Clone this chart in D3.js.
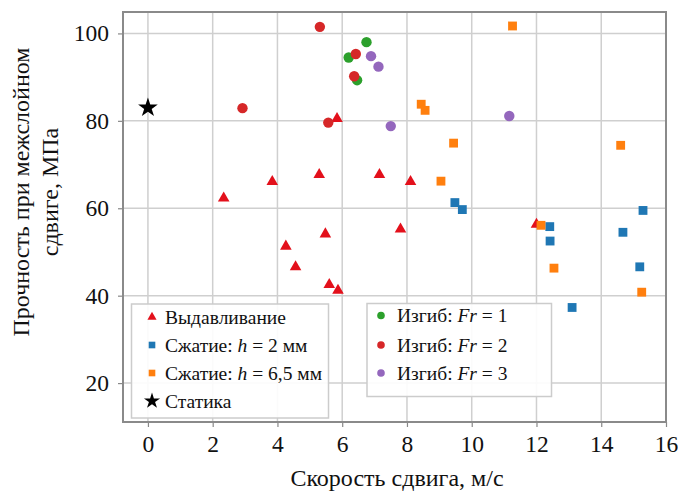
<!DOCTYPE html>
<html><head><meta charset="utf-8">
<script src="https://cdn.jsdelivr.net/npm/d3@7/dist/d3.min.js"></script>
<style>body{margin:0;background:#fff}svg{display:block}</style>
</head><body><svg id="c" width="678" height="491"></svg>
<script>
const xTicks = [0,2,4,6,8,10,12,14,16];
const yTicks = [20,40,60,80,100];
const extrusion = [[2.34,62.3],[3.84,66.1],[4.26,51.3],[4.56,46.6],[5.29,67.7],[5.48,54.1],[5.6,42.5],[5.84,80.5],[5.87,41.2],[7.15,67.7],[7.8,55.2],[8.11,66.1],[12.0,56.3]];
const comp2 = [[9.48,61.3],[9.71,59.7],[12.41,55.8],[12.42,52.5],[13.1,37.3],[14.67,54.5],[15.19,46.6],[15.29,59.5]];
const comp65 = [[8.44,83.8],[8.56,82.4],[9.05,66.2],[9.44,74.9],[11.26,101.7],[12.14,56.1],[12.54,46.3],[14.6,74.4],[15.25,40.8]];
const bend1 = [[6.2,94.5],[6.75,98.0],[6.46,89.3]];
const bend2 = [[2.92,82.9],[5.31,101.5],[5.57,79.6],[6.37,90.2],[6.42,95.3]];
const bend3 = [[6.89,94.8],[7.12,92.4],[7.5,78.8],[11.16,81.1]];
const statics = [[0,83]];
const xTitle = "Скорость сдвига, м/с";
const yTitle = ["Прочность при межслойном","сдвиге, МПа"];

const svg = d3.select("#c");
const L=123, R=666, T=12, B=422;
const x = d3.scaleLinear().domain([-0.77,16]).range([L,R]);
const y = d3.scaleLinear().domain([11.1,104.9]).range([B,T]);
const font = "'Liberation Serif','Times New Roman',serif";

// grid
svg.append("g").selectAll("line.gx").data(xTicks).join("line")
  .attr("x1",d=>x(d)).attr("x2",d=>x(d)).attr("y1",T).attr("y2",B)
  .attr("stroke","#cfcfcf").attr("stroke-width",1.5);
svg.append("g").selectAll("line.gy").data(yTicks).join("line")
  .attr("y1",d=>y(d)).attr("y2",d=>y(d)).attr("x1",L).attr("x2",R)
  .attr("stroke","#cfcfcf").attr("stroke-width",1.5);

// axes
const xa = svg.append("g").attr("transform",`translate(0,${B})`)
  .call(d3.axisBottom(x).tickValues(xTicks).tickSize(5).tickPadding(8).tickSizeOuter(0));
const ya = svg.append("g").attr("transform",`translate(${L},0)`)
  .call(d3.axisLeft(y).tickValues(yTicks).tickSize(5).tickPadding(9).tickSizeOuter(0));
[xa,ya].forEach(a=>{
  a.select(".domain").remove();
  a.selectAll(".tick line").attr("stroke","#888").attr("stroke-width",1.2);
  a.selectAll("text").attr("font-family",font).attr("font-size",23.5).attr("fill","#111");
});
xa.selectAll("text").attr("dy","0.71em");

// frame
svg.append("rect").attr("x",L).attr("y",T).attr("width",R-L).attr("height",B-T)
  .attr("fill","none").attr("stroke","#8a8a8a").attr("stroke-width",2);

// markers
const tri = d3.symbol().type(d3.symbolTriangle).size(58);
const sq = d3.symbol().type(d3.symbolSquare).size(78);
const star = d3.symbol().type(d3.symbolStar).size(120);
function pts(data, path, color){
  svg.append("g").selectAll("path").data(data).join("path")
    .attr("d",path).attr("fill",color)
    .attr("transform",d=>`translate(${x(d[0])},${y(d[1])})`);
}
function circ(data,color){
  svg.append("g").selectAll("circle").data(data).join("circle")
    .attr("cx",d=>x(d[0])).attr("cy",d=>y(d[1])).attr("r",5.2).attr("fill",color);
}
pts(extrusion, tri(), "#e3101b");
pts(comp2, sq(), "#1f77b4");
pts(comp65, sq(), "#ff7f0e");
circ(bend1,"#2ca02c");
circ(bend2,"#d62728");
circ(bend3,"#9467bd");
pts(statics, star(), "#000");

// legends
function legend(x0,y0,w,h,items,mx,tx){
  const g = svg.append("g");
  g.append("rect").attr("x",x0).attr("y",y0).attr("width",w).attr("height",h)
    .attr("fill","#fff").attr("fill-opacity",0.9).attr("stroke","#cccccc").attr("stroke-width",1.5);
  items.forEach(it=>{
    const m = g.append("g").attr("transform",`translate(${mx},${it.y})`);
    if(it.shape==="circle") m.append("circle").attr("r",3.8).attr("fill",it.color);
    else m.append("path").attr("d",d3.symbol().type(it.shape).size(it.size)()).attr("fill",it.color);
    const t = g.append("text").attr("x",tx).attr("y",it.y).attr("dy","0.35em")
      .attr("font-family",font).attr("font-size",19.5).attr("fill","#111");
    it.parts.forEach(p=>t.append("tspan").attr("font-style",p[1]?"italic":null).text(p[0]));
  });
}
legend(131.5,304,197,114,[
  {shape:d3.symbolTriangle,size:36,color:"#e3101b",y:317,parts:[["Выдавливание"]]},
  {shape:d3.symbolSquare,size:44,color:"#1f77b4",y:345,parts:[["Сжатие: "],["h",1],[" = 2 мм"]]},
  {shape:d3.symbolSquare,size:44,color:"#ff7f0e",y:373,parts:[["Сжатие: "],["h",1],[" = 6,5 мм"]]},
  {shape:d3.symbolStar,size:80,color:"#000",y:401,parts:[["Статика"]]}
],152,165);
legend(367,303.5,184.5,93,[
  {shape:"circle",color:"#2ca02c",y:315.5,parts:[["Изгиб: "],["Fr",1],[" = 1"]]},
  {shape:"circle",color:"#d62728",y:345,parts:[["Изгиб: "],["Fr",1],[" = 2"]]},
  {shape:"circle",color:"#9467bd",y:373,parts:[["Изгиб: "],["Fr",1],[" = 3"]]}
],381,397);

// titles
svg.append("text").attr("x",397).attr("y",478).attr("text-anchor","middle").attr("dy","0.35em")
  .attr("font-family",font).attr("font-size",24).attr("fill","#111").text(xTitle);
const yt = svg.append("text").attr("transform","translate(21,192) rotate(-90)")
  .attr("text-anchor","middle").attr("font-family",font).attr("font-size",24).attr("fill","#111");
yTitle.forEach((s,i)=>yt.append("tspan").attr("x",0).attr("y",i*29).attr("dy","0.35em").text(s));
</script></body></html>
